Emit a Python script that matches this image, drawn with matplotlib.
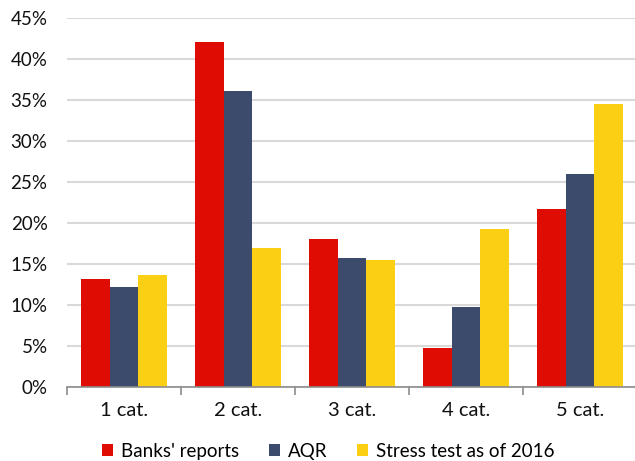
import matplotlib
matplotlib.use("Agg")
import matplotlib.pyplot as plt
from matplotlib.patches import Patch
import numpy as np

categories = ["1 cat.", "2 cat.", "3 cat.", "4 cat.", "5 cat."]
series_names = ["Banks' reports", "AQR", "Stress test as of 2016"]
banks = [13.2, 42.1, 18.1, 4.8, 21.7]
aqr = [12.2, 36.1, 15.7, 9.7, 26.0]
stress = [13.7, 16.9, 15.5, 19.3, 34.5]
yticks = [0, 5, 10, 15, 20, 25, 30, 35, 40, 45]

colors = ["#DE0C02", "#3C4A6B", "#FBD014"]

plt.rcParams['font.family'] = ['Lato', 'DejaVu Sans']
fs = 13.5

fig = plt.figure(figsize=(6.35, 4.61), dpi=100)
ax = fig.add_axes([67/635, 74/461, 570/635, (387-18)/461])

x = np.arange(len(categories))
w = 0.25
for i, (vals, c) in enumerate(zip([banks, aqr, stress], colors)):
    ax.bar(x + (i - 1) * w, vals, width=w, color=c, zorder=3)

ax.set_xlim(-0.5, len(categories) - 0.5)
ax.set_ylim(0, 45)
ax.set_yticks(yticks)
ax.set_yticklabels([f"{v}%" for v in yticks], fontsize=fs, color="#111111")
ax.set_xticks(x)
ax.set_xticklabels(categories, fontsize=14.5, color="#111111")
ax.tick_params(axis='x', length=0, pad=11)
ax.tick_params(axis='y', length=0, pad=14)
ax.set_xticks(np.arange(-0.5, len(categories) + 0.5, 1), minor=True)
ax.tick_params(axis='x', which='minor', length=6, width=1.2, color="#8C8C8C")

ax.grid(axis='y', color="#D9D9D9", linewidth=1.5, zorder=0)
for s in ["top", "right", "left"]:
    ax.spines[s].set_visible(False)
ax.spines["bottom"].set_color("#8C8C8C")
ax.spines["bottom"].set_linewidth(1.2)
ax.spines["bottom"].set_zorder(4)

handles = [Patch(facecolor=c, label=n) for c, n in zip(colors, series_names)]
fig.legend(handles=handles, loc="center", bbox_to_anchor=(328/635, 1 - 451/461),
           ncol=3, frameon=False, fontsize=fs, handlelength=0.6, handleheight=0.6,
           handletextpad=0.4, columnspacing=1.6)

fig.savefig("out.png", dpi=100)
